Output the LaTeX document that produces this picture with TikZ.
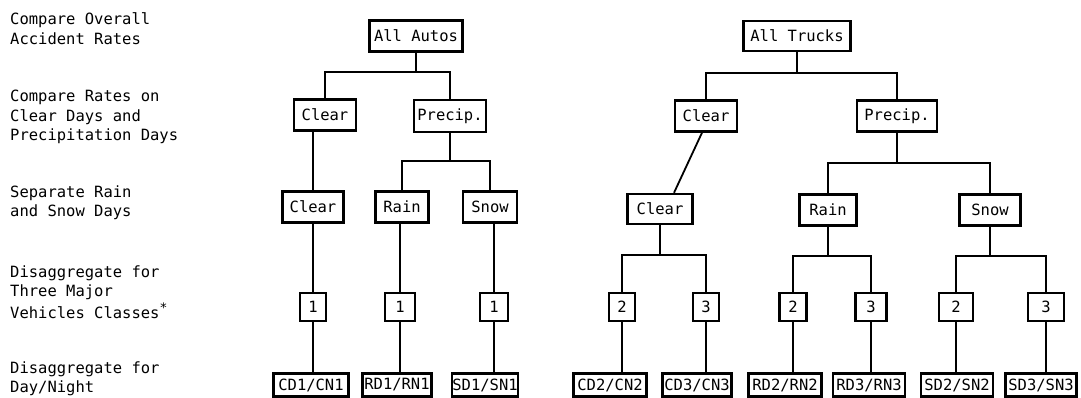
\documentclass[tikz,border=0pt]{standalone}
\usepackage{fontspec}
\newfontfamily\tw{DejaVu Sans Mono}
\begin{document}
\begin{tikzpicture}[x=1pt,y=-1pt,
  lbl/.style={anchor=base west, inner sep=0pt, font=\tw\fontsize{15.5}{19.5}\selectfont},
  box/.style={draw, line width=2.4pt, inner sep=0pt, fill=white, font=\tw\fontsize{15.5}{19.5}\selectfont},
  numbox/.style={box, minimum height=28},
  botbox/.style={box, minimum height=23},
  link/.style={line width=1.8pt}]
\useasboundingbox (0,0) rectangle (1081,398);

% left labels
\node[lbl] (l1) at (10,25) {\begin{tabular}[t]{@{}l@{}}Compare Overall\\Accident Rates\end{tabular}};
\node[lbl] (l2) at (10,102) {\begin{tabular}[t]{@{}l@{}}Compare Rates on\\Clear Days and\\Precipitation Days\end{tabular}};
\node[lbl] (l3) at (10,197) {\begin{tabular}[t]{@{}l@{}}Separate Rain\\and Snow Days\end{tabular}};
\node[lbl] (l4) at (10,277) {\begin{tabular}[t]{@{}l@{}}Disaggregate for\\Three Major\\Vehicles Classes\raisebox{0.45em}{\fontsize{13}{13}\selectfont *}\end{tabular}};
\node[lbl] (l5) at (10,373) {\begin{tabular}[t]{@{}l@{}}Disaggregate for\\Day/Night\end{tabular}};

% junctions
\coordinate (ja) at (416,72);
\coordinate (jap) at (450,161);
\coordinate (jt) at (797,73);
\coordinate (jtp) at (897,163);
\coordinate (jtc) at (660,255);
\coordinate (jtr) at (828,256);
\coordinate (jts) at (990,256);

% ---- Autos ----
\node[box, minimum width=93, minimum height=31] (aa) at (416,36) {All Autos};
\node[box, minimum width=62, minimum height=31] (ac) at (325,115) {Clear};
\node[box, minimum width=72, minimum height=32] (ap) at (450,116) {Precip.};
\node[box, minimum width=61, minimum height=31] (ac3) at (313,207) {Clear};
\node[box, minimum width=53, minimum height=31] (ar) at (402,207) {Rain};
\node[box, minimum width=54, minimum height=31] (as) at (490,207) {Snow};
\node[numbox, minimum width=26] (a1c) at (313,307) {1};
\node[numbox, minimum width=30] (a1r) at (400,307) {1};
\node[numbox, minimum width=28] (a1s) at (494,307) {1};
\node[botbox, minimum width=75] (acd) at (311,385) {CD1/CN1};
\node[botbox, minimum width=69] (ard) at (397,385) {RD1/RN1};
\node[botbox, minimum width=66] (asd) at (485,385) {SD1/SN1};

% ---- Trucks ----
\node[box, minimum width=107, minimum height=30] (ta) at (797,36) {All Trucks};
\node[box, minimum width=62, minimum height=31] (tc) at (706,116) {Clear};
\node[box, minimum width=80, minimum height=31] (tp) at (897,116) {Precip.};
\node[box, minimum width=65, minimum height=30] (tc3) at (660,209) {Clear};
\node[box, minimum width=57, minimum height=31] (tr) at (828,210) {Rain};
\node[box, minimum width=61, minimum height=31] (ts) at (990,210) {Snow};
\node[numbox, minimum width=26] (t2c) at (622,307) {2};
\node[numbox, minimum width=26] (t3c) at (706,307) {3};
\node[numbox, minimum width=27] (t2r) at (793,307) {2};
\node[numbox, minimum width=31] (t3r) at (871,307) {3};
\node[numbox, minimum width=34] (t2s) at (956,307) {2};
\node[numbox, minimum width=36] (t3s) at (1046,307) {3};
\node[botbox, minimum width=73] (tcd2) at (610,385) {CD2/CN2};
\node[botbox, minimum width=69] (tcd3) at (697,385) {CD3/CN3};
\node[botbox, minimum width=73] (trd2) at (785,385) {RD2/RN2};
\node[botbox, minimum width=72] (trd3) at (869,385) {RD3/RN3};
\node[botbox, minimum width=72] (tsd2) at (957,385) {SD2/SN2};
\node[botbox, minimum width=71] (tsd3) at (1041,385) {SD3/SN3};

% ---- Autos connectors ----
\draw[link] (aa.south) -- (ja);
\draw[link] (ac.north) |- (ja) -| (ap.north);
\draw[link] (ac3.north) -- (ac3.north |- ac.south);
\draw[link] (ap.south) -- (jap);
\draw[link] (ar.north) |- (jap) -| (as.north);
\draw[link] (a1c.north) -- (a1c.north |- ac3.south);
\draw[link] (a1r.north) -- (a1r.north |- ar.south);
\draw[link] (a1s.north) -- (a1s.north |- as.south);
\draw[link] (a1c.south) -- (a1c.south |- acd.north);
\draw[link] (a1r.south) -- (a1r.south |- ard.north);
\draw[link] (a1s.south) -- (a1s.south |- asd.north);

% ---- Trucks connectors ----
\draw[link] (ta.south) -- (jt);
\draw[link] (tc.north) |- (jt) -| (tp.north);
\draw[link] ([xshift=-4pt]tc.south) -- ([xshift=14pt]tc3.north);
\draw[link] (tp.south) -- (jtp);
\draw[link] (tr.north) |- (jtp) -| (ts.north);
\draw[link] (tc3.south) -- (jtc);
\draw[link] (t2c.north) |- (jtc) -| (t3c.north);
\draw[link] (tr.south) -- (jtr);
\draw[link] (t2r.north) |- (jtr) -| (t3r.north);
\draw[link] (ts.south) -- (jts);
\draw[link] (t2s.north) |- (jts) -| (t3s.north);
\draw[link] (t2c.south) -- (t2c.south |- tcd2.north);
\draw[link] (t3c.south) -- (t3c.south |- tcd3.north);
\draw[link] (t2r.south) -- (t2r.south |- trd2.north);
\draw[link] (t3r.south) -- (t3r.south |- trd3.north);
\draw[link] (t2s.south) -- (t2s.south |- tsd2.north);
\draw[link] (t3s.south) -- (t3s.south |- tsd3.north);
\end{tikzpicture}
\end{document}
